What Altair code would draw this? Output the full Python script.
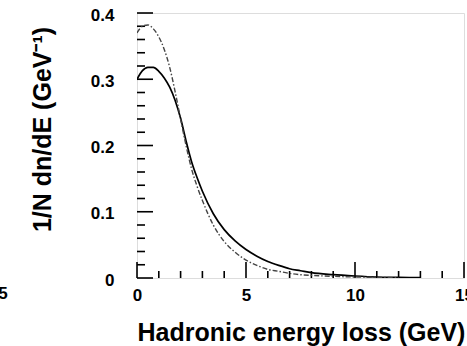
import altair as alt
import pandas as pd

# --- data ---
solid_x = [0, 0.25, 0.5, 0.75, 1.0, 1.25, 1.5, 1.75, 2.0, 2.25, 2.5, 2.75, 3.0, 3.5,
           4.0, 4.5, 5.0, 5.5, 6.0, 6.5, 7.0, 7.5, 8.0, 9.0, 10.0, 11.0, 12.0, 13.0]
solid_y = [0.300, 0.313, 0.318, 0.318, 0.312, 0.302, 0.288, 0.268, 0.241, 0.207, 0.176,
           0.152, 0.131, 0.097, 0.073, 0.056, 0.043, 0.033, 0.025, 0.019, 0.014, 0.011,
           0.008, 0.005, 0.003, 0.0015, 0.001, 0.0005]

dashed_x = [0, 0.25, 0.5, 0.75, 1.0, 1.25, 1.5, 1.75, 2.0, 2.25, 2.5, 2.75, 3.0, 3.5,
            4.0, 4.5, 5.0, 5.5, 6.0, 6.5, 7.0, 7.5, 8.0, 9.0, 10.0, 11.0, 12.0]
dashed_y = [0.370, 0.380, 0.382, 0.376, 0.364, 0.345, 0.318, 0.281, 0.240, 0.200, 0.165,
            0.139, 0.117, 0.080, 0.055, 0.039, 0.027, 0.019, 0.013, 0.010, 0.007, 0.005,
            0.004, 0.0025, 0.0015, 0.001, 0.0005]

x_major = [0, 5, 10, 15]
x_minor = [1, 2, 3, 4, 6, 7, 8, 9, 11, 12, 13, 14]
y_major = [0, 0.1, 0.2, 0.3, 0.4]
y_minor = [0.02, 0.04, 0.06, 0.08, 0.12, 0.14, 0.16, 0.18, 0.22, 0.24, 0.26, 0.28,
           0.32, 0.34, 0.36, 0.38]

x_title = "Hadronic energy loss (GeV)"
y_title = "1/N dn/dE (GeV⁻¹)"

W, H = 327, 265
FONT = "Liberation Sans"

xs = alt.Scale(domain=[0, 15], nice=False)
ys = alt.Scale(domain=[0, 0.4], nice=False)

solid_df = pd.DataFrame({"E": solid_x, "v": solid_y})
dashed_df = pd.DataFrame({"E": dashed_x, "v": dashed_y})

x_axis = alt.Axis(values=x_major, format="d", ticks=False, tickSize=0, domain=False,
                  grid=False, labelFont=FONT, labelFontSize=17, labelFontWeight="bold",
                  labelColor="black", labelPadding=9, labelFlush=False, labelBound=False,
                  title=x_title, titleFont=FONT, titleFontSize=25, titleFontWeight="bold",
                  titleColor="black", titleBaseline="alphabetic", titleY=62, titleX=164)
y_axis = alt.Axis(values=y_major, format="~g", ticks=False, tickSize=0, domain=False,
                  grid=False, labelFont=FONT, labelFontSize=17, labelFontWeight="bold",
                  labelColor="black", labelPadding=23, labelFlush=False, labelOffset=2,
                  title=y_title, titleFont=FONT, titleFontSize=25, titleFontWeight="bold",
                  titleColor="black", titleAngle=270, titleBaseline="alphabetic",
                  titleAlign="center", titleX=-87, titleY=116)

solid = alt.Chart(solid_df).mark_line(color="black", strokeWidth=1.7, interpolate="monotone",
                                      clip=True).encode(
    x=alt.X("E:Q", scale=xs, axis=x_axis),
    y=alt.Y("v:Q", scale=ys, axis=y_axis),
)
dashed = alt.Chart(dashed_df).mark_line(color="#444444", strokeWidth=1.4,
                                        strokeDash=[5, 2, 1.5, 2], interpolate="monotone",
                                        clip=True).encode(
    x=alt.X("E:Q", scale=xs),
    y=alt.Y("v:Q", scale=ys),
)

def xticks(vals, length):
    return alt.Chart(pd.DataFrame({"t": vals})).mark_rule(color="black", strokeWidth=1.6).encode(
        x=alt.X("t:Q", scale=xs), y=alt.value(H), y2=alt.value(H - length))

def yticks(vals, length):
    return alt.Chart(pd.DataFrame({"t": vals})).mark_rule(color="black", strokeWidth=1.6).encode(
        y=alt.Y("t:Q", scale=ys), x=alt.value(0), x2=alt.value(length))

stray = alt.Chart(pd.DataFrame({"s": ["5"]})).mark_text(
    font=FONT, fontSize=17, fontWeight="bold", color="black", align="center",
    baseline="middle").encode(x=alt.value(-134), y=alt.value(16 + H), text="s:N")

chart = alt.layer(
    xticks(x_major, 16), xticks(x_minor, 7), yticks(y_major, 16), yticks(y_minor, 8),
    solid, dashed, stray,
).properties(
    width=W, height=H,
    autosize=alt.AutoSizeParams(type="none"),
    padding={"left": 137, "top": 13, "right": 3, "bottom": 68},
).configure_view(stroke="black", strokeWidth=2).configure(background="white")

chart.save("out.html", embed_options={"renderer": "svg", "actions": False})
